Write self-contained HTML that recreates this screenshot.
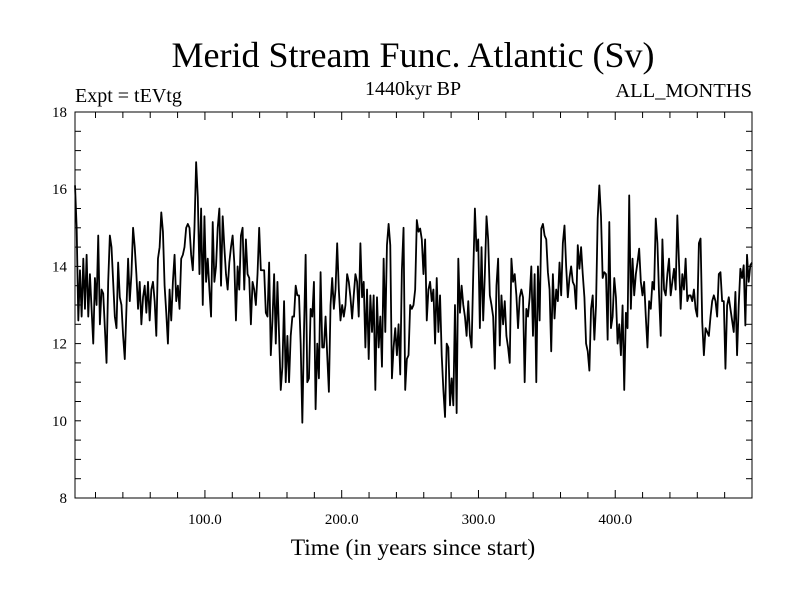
<!DOCTYPE html>
<html><head><meta charset="utf-8"><style>
body{margin:0;background:#fff}
svg text{font-family:"Liberation Serif",serif;fill:#000}
</style></head><body>
<svg id="chart" width="800" height="600">
<text x="413" y="67" text-anchor="middle" font-size="36">Merid Stream Func. Atlantic (Sv)</text>
<text x="75" y="102" font-size="20">Expt = tEVtg</text>
<text x="413" y="95" text-anchor="middle" font-size="20">1440kyr BP</text>
<text x="752" y="97" text-anchor="end" font-size="20.5">ALL_MONTHS</text>
<text x="413" y="555" text-anchor="middle" font-size="23.5">Time (in years since start)</text>
<g id="axes"></g>
<path id="series" fill="none" stroke="#000" stroke-width="1.8" stroke-linejoin="round"></path>
<rect x="75" y="112" width="677" height="386" fill="none" stroke="#000" stroke-width="1"></rect>
</svg>
<script>
const yTicks=[8,10,12,14,16,18];
const xTicks=[100,200,300,400];
const xTickLabels=["100.0","200.0","300.0","400.0"];
const startYear=5, endYear=500;
const values=[16.1,15.0,12.6,13.9,12.7,14.2,12.9,14.3,12.7,13.8,12.9,12.0,13.7,13.0,14.8,12.5,13.4,13.3,12.4,11.5,13.6,14.8,14.5,13.6,12.7,12.4,14.1,13.2,13.0,12.2,11.6,12.9,14.2,13.1,13.8,15.0,14.5,13.8,12.9,13.6,12.5,13.2,13.5,12.8,13.6,12.6,13.4,13.6,13.1,12.2,14.2,14.5,15.4,14.9,13.5,12.8,12.0,13.4,12.6,13.6,14.3,13.1,13.5,12.9,14.2,14.3,14.5,15.0,15.1,15.0,14.3,13.9,15.0,16.7,15.8,13.8,15.5,13.0,15.3,13.6,14.2,13.4,12.7,15.15,13.6,14.0,15.0,15.5,13.5,15.3,14.5,13.8,13.4,14.1,14.5,14.8,14.1,12.6,14.0,13.4,
14.8,15.0,13.4,14.7,13.8,13.7,12.5,13.6,13.4,13.0,13.8,15.0,13.9,13.9,13.9,12.8,12.7,14.1,11.7,12.6,13.8,12.0,13.6,12.2,10.8,11.4,13.1,11.0,12.2,11.0,12.2,12.7,12.7,13.5,13.25,13.25,12.0,9.95,12.3,14.3,11.0,11.1,12.9,12.7,13.6,10.3,12.0,11.1,13.85,11.9,11.9,12.7,11.7,10.75,12.99,13.7,12.9,13.4,14.6,13.4,12.6,13.0,12.7,13.0,13.8,13.6,13.2,12.65,13.25,13.8,13.6,12.7,14.6,13.2,13.6,11.9,13.4,11.6,13.25,12.3,13.25,10.8,13.2,11.9,12.7,11.4,14.2,12.3,14.55,15.1,14.55,11.1,11.9,12.4,11.7,12.5,11.2,13.9,15.0,10.8,11.6,11.7,13.0,
12.9,13.0,13.4,15.2,14.9,14.98,14.7,13.8,14.7,12.6,13.4,13.6,13.1,13.4,12.0,13.7,12.3,13.25,11.7,10.8,10.1,12.0,11.9,10.4,11.1,10.4,13.0,10.2,14.2,12.8,13.5,13.0,12.7,12.2,13.1,12.2,11.9,13.8,15.5,14.4,14.7,12.4,14.5,12.6,13.8,15.3,14.7,13.25,13.0,12.7,11.35,13.5,14.2,11.95,13.25,12.5,13.1,12.2,11.9,11.5,14.2,13.6,13.8,13.25,12.4,13.2,13.4,13.2,11.0,12.9,12.7,13.2,14.0,12.2,13.8,11.0,14.0,12.6,14.98,15.1,14.8,14.7,13.85,13.4,11.8,13.8,12.65,13.4,13.1,14.1,13.25,14.6,15.06,14.0,13.2,13.7,14.0,13.6,13.5,12.9,14.55,
13.94,14.5,13.8,13.2,12.0,11.8,11.3,12.9,13.25,12.1,12.99,15.24,16.1,15.3,13.7,13.85,13.8,12.1,15.15,12.4,12.7,13.7,13.2,12.0,12.5,11.7,12.99,10.8,12.8,12.4,15.84,12.9,14.2,13.25,13.8,14.1,14.46,13.6,13.25,13.6,12.7,11.9,13.1,12.9,13.6,13.4,15.24,14.6,13.25,12.2,14.7,13.4,13.25,13.8,14.2,13.25,13.6,13.94,13.4,15.32,14.1,12.9,13.8,13.4,14.2,13.1,13.25,13.25,13.1,13.4,12.9,12.7,14.6,14.72,12.56,11.7,12.4,12.3,12.2,12.7,13.1,13.25,13.1,12.7,13.8,13.85,13.1,13.1,11.35,12.99,13.2,12.9,12.6,12.3,13.34,11.7,13.0,13.94,13.7,14.03,12.47,14.3,13.6,14.03,14.1];
const NS="http://www.w3.org/2000/svg";
const L=75,R=752,T=112,B=498,xMin=5,xMax=500,yMin=8,yMax=18;
function xs(t){return L+(t-xMin)/(xMax-xMin)*(R-L);}
function ys(v){return B-(v-yMin)/(yMax-yMin)*(B-T);}
const g=document.getElementById('axes');
function line(x1,y1,x2,y2,name){const l=document.createElementNS(NS,'line');l.setAttribute('x1',x1);l.setAttribute('y1',y1);l.setAttribute('x2',x2);l.setAttribute('y2',y2);l.setAttribute('stroke','#000');l.setAttribute('stroke-width','1');


g.appendChild(l);}
function text(x,y,s,anchor,name){const t=document.createElementNS(NS,'text');t.setAttribute('x',x);t.setAttribute('y',y);t.setAttribute('text-anchor',anchor);t.setAttribute('font-size','15');t.textContent=s;


g.appendChild(t);}
for(let v=yMin;v<=yMax;v+=0.5){const y=ys(v);line(L,y,L+6,y,'y-tick');line(R,y,R-6,y,'y-tick-right');}
yTicks.forEach(v=>text(67,ys(v)+5,String(v),'end','y-tick-label'));
for(let t=20;t<=xMax;t+=20){const x=xs(t);const len=(t%100===0)?8:6;line(x,B,x,B-len,'x-tick');line(x,T,x,T+len,'x-tick-top');}
xTicks.forEach((t,i)=>text(xs(t),524,xTickLabels[i],'middle','x-tick-label'));
const n=values.length;let d='';
values.forEach((v,i)=>{const t=startYear+i*(endYear-startYear)/(n-1);d+=(i?'L':'M')+xs(t).toFixed(2)+','+ys(v).toFixed(2);});
document.getElementById('series').setAttribute('d',d);
</script>
</body></html>
